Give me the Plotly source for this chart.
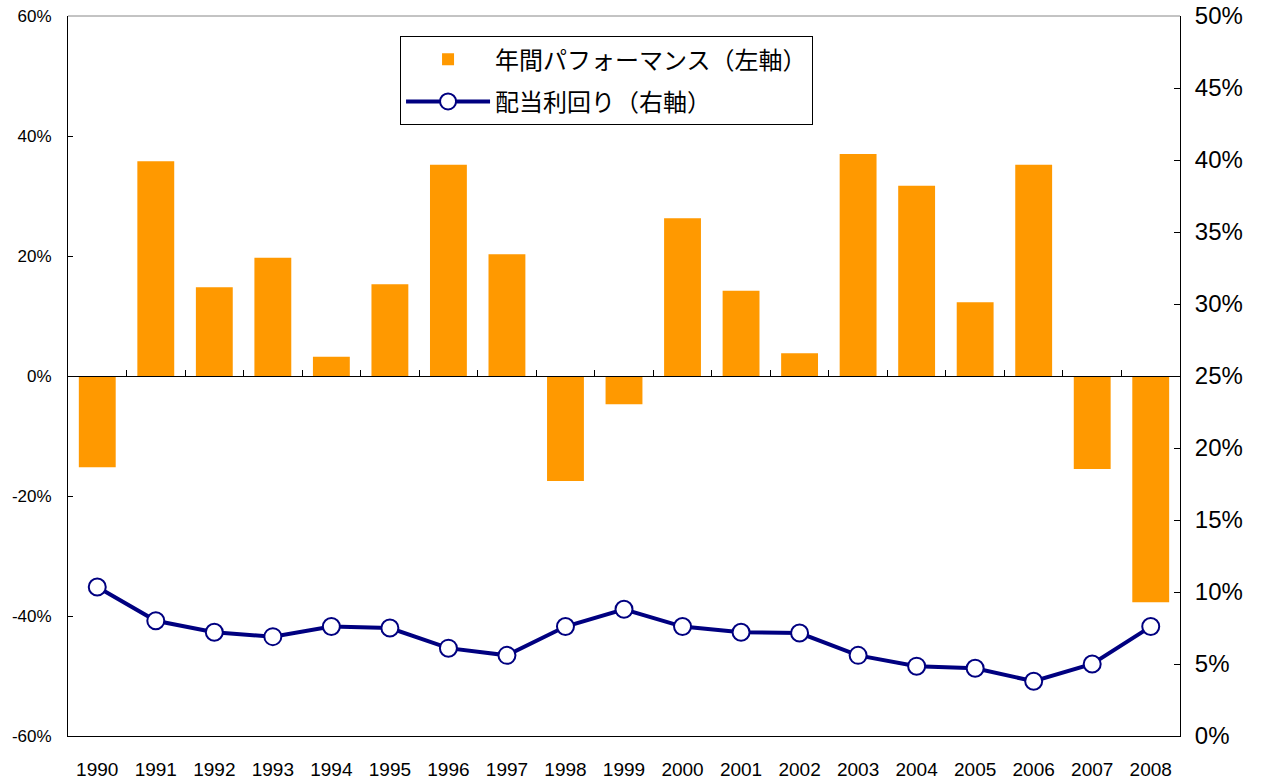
import plotly.graph_objects as go

years = [str(y) for y in range(1990, 2009)]
performance = [-15.2, 35.8, 14.8, 19.7, 3.2, 15.3, 35.2, 20.3, -17.5, -4.7,
               26.3, 14.2, 3.8, 37.0, 31.7, 12.3, 35.2, -15.5, -37.7]
dividend_yield = [10.35, 8.0, 7.2, 6.9, 7.6, 7.5, 6.1, 5.6, 7.6, 8.8,
                  7.6, 7.2, 7.15, 5.6, 4.85, 4.7, 3.8, 5.0, 7.6]

left_ticks = [-60, -40, -20, 0, 20, 40, 60]
right_ticks = list(range(0, 51, 5))

name_bar = "年間パフォーマンス（左軸）"
name_line = "配当利回り（右軸）"

font_main = "Liberation Sans, Arial, Noto Sans CJK JP, sans-serif"
font_jp = "Noto Sans CJK JP, Liberation Sans, sans-serif"

xrange = [-0.5, len(years) - 0.5]

fig = go.Figure()
fig.add_trace(go.Bar(x=years, y=performance, name=name_bar, legendgroup="a",
                     marker=dict(color="#FF9900", line=dict(width=0)),
                     xaxis="x", yaxis="y"))
fig.add_trace(go.Scatter(x=years, y=dividend_yield, name=name_line,
                         legendgroup="b", mode="lines+markers",
                         line=dict(color="#000080", width=4),
                         marker=dict(symbol="circle", size=17, color="white",
                                     line=dict(color="#000080", width=2)),
                         xaxis="x", yaxis="y2"))
# invisible helper trace for the zero-line category axis
fig.add_trace(go.Scatter(x=years, y=[0] * len(years), mode="markers",
                         marker=dict(opacity=0), showlegend=False,
                         hoverinfo="skip", xaxis="x2", yaxis="y"))

fig.update_layout(
    width=1265, height=781,
    margin=dict(l=68, r=85, t=16, b=45, autoexpand=False),
    plot_bgcolor="white", paper_bgcolor="white",
    bargap=0.37,
    font=dict(family=font_main, color="black", size=18),
    showlegend=True,
    legend=dict(x=0.2986, y=0.972, xanchor="left", yanchor="top",
                bgcolor="white", bordercolor="black", borderwidth=1,
                font=dict(family=font_jp, size=24, color="black"),
                tracegroupgap=8, itemwidth=84),
    xaxis=dict(type="category", range=xrange, showline=True, linecolor="black",
               linewidth=1, ticks="", showgrid=False, zeroline=False,
               automargin=False, tickfont=dict(size=19), ticklabelstandoff=16),
    xaxis2=dict(type="category", range=xrange, overlaying="x", anchor="free",
                position=0.5, side="bottom", showline=True, linecolor="black",
                linewidth=1, ticks="inside", ticklen=6, tickcolor="black",
                tickson="boundaries", showticklabels=False, showgrid=False,
                automargin=False),
    yaxis=dict(range=[-60, 60], tickvals=left_ticks,
               ticktext=[f"{v}%" for v in left_ticks],
               showline=True, linecolor="black", linewidth=1,
               ticks="inside", ticklen=5, tickcolor="black", automargin=False,
               showgrid=False, zeroline=False, tickfont=dict(size=17),
               ticklabelstandoff=12),
    yaxis2=dict(range=[0, 50], tickvals=right_ticks,
                ticktext=[f"{v}%" for v in right_ticks],
                overlaying="y", side="right", anchor="x", automargin=False,
                showline=True, linecolor="black", linewidth=1,
                ticks="inside", ticklen=6, tickcolor="black",
                showgrid=False, zeroline=False, tickfont=dict(size=24),
                ticklabelstandoff=9),
    shapes=[dict(type="line", xref="paper", yref="paper", x0=0, x1=1, y0=1, y1=1,
                 line=dict(color="#888888", width=1))],
)

fig.write_html("out.html", config={"displayModeBar": False},
               post_script="document.body.style.margin='0px';document.body.style.overflow='hidden';")
